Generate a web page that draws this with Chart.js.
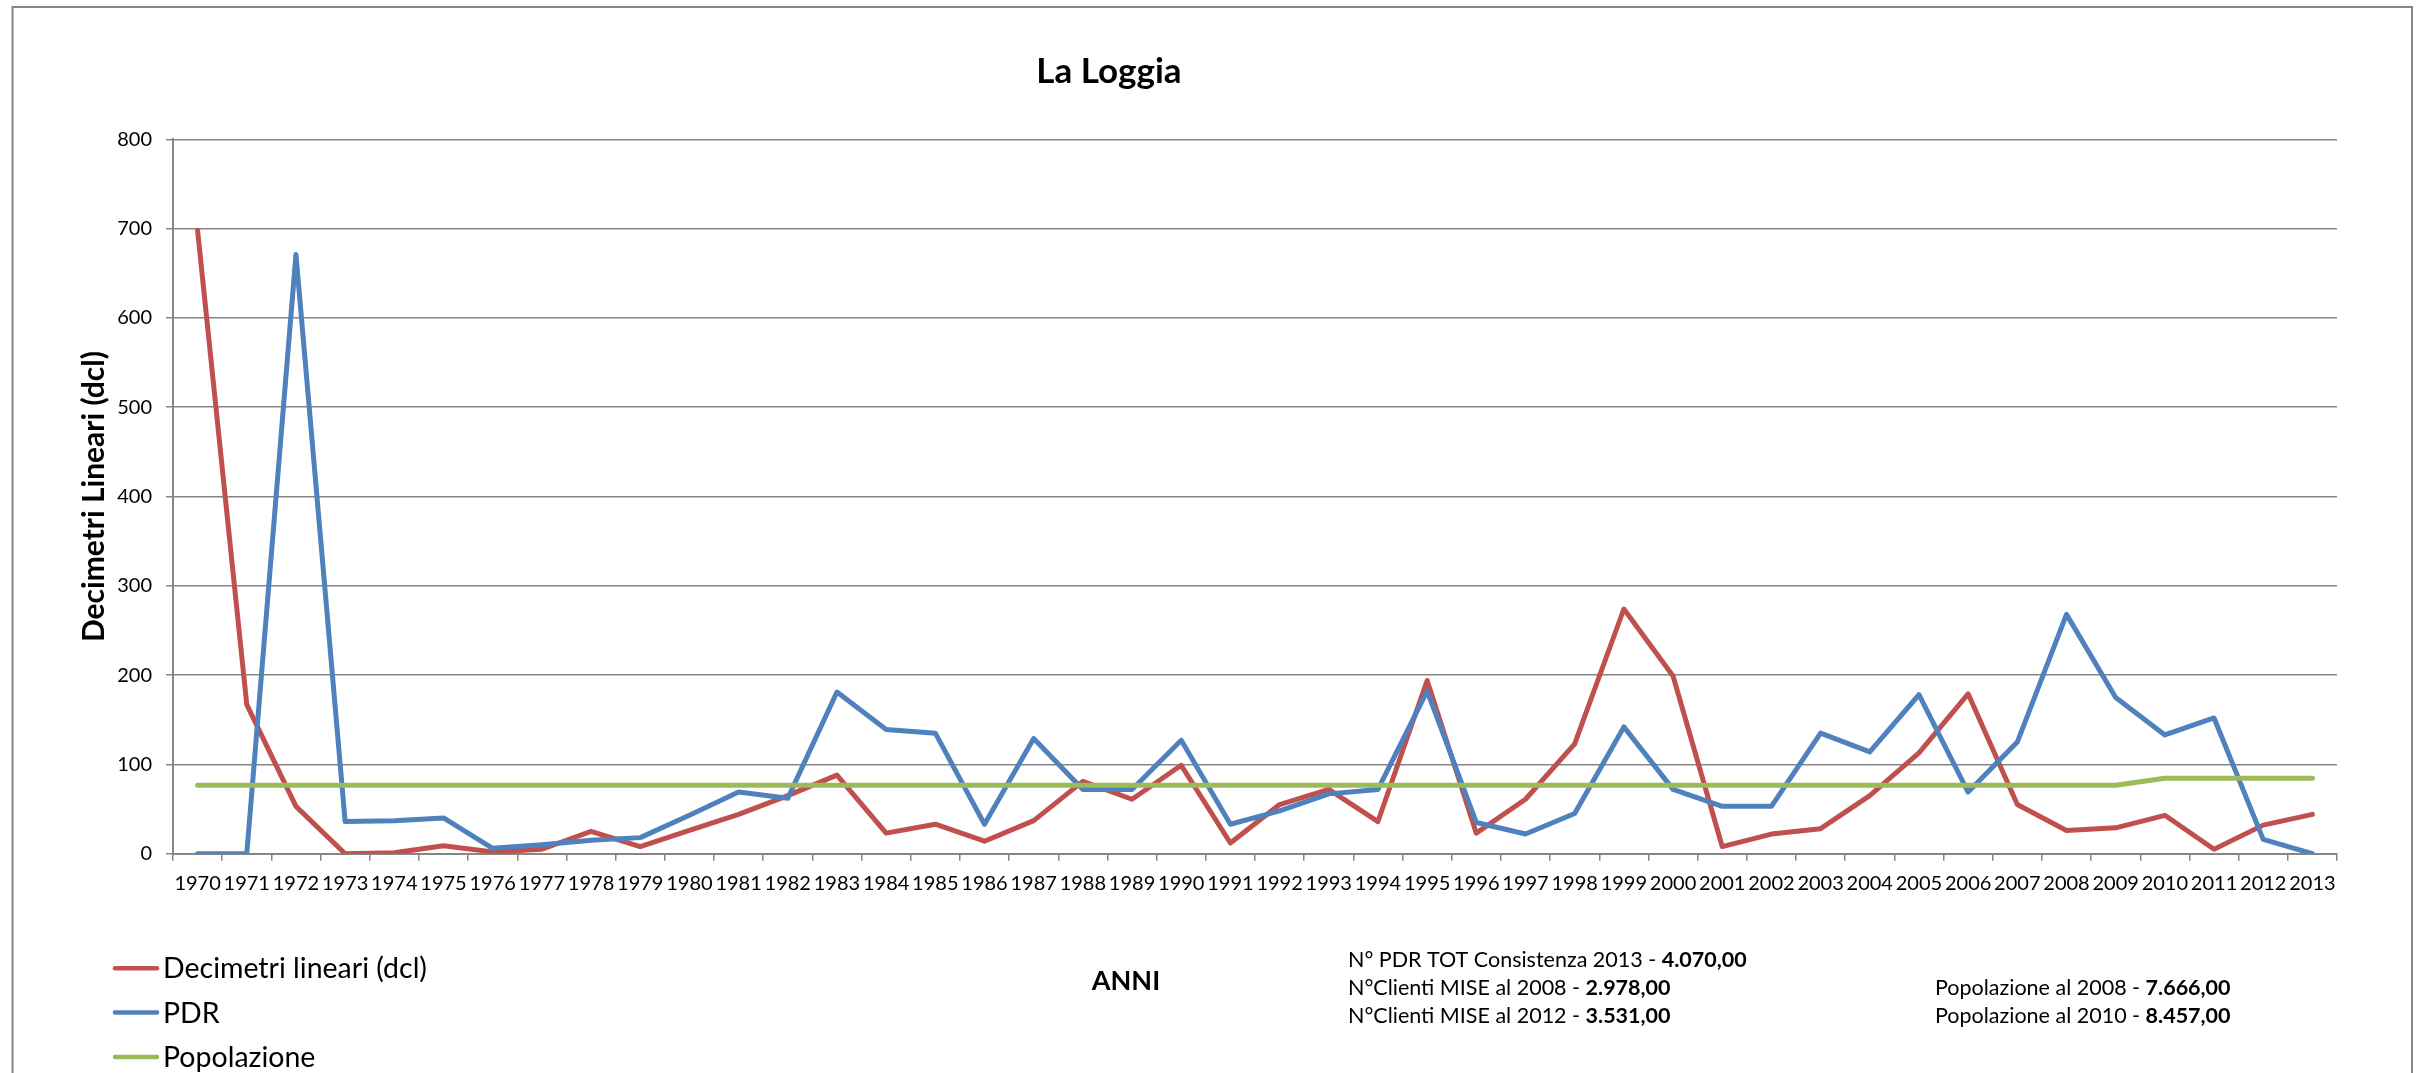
<!DOCTYPE html>
<html>
<head>
<meta charset="utf-8">
<title>La Loggia</title>
<script src="https://cdn.jsdelivr.net/npm/chart.js@4.4.1/dist/chart.umd.min.js"></script>
<style>
  html, body { margin: 0; padding: 0; background: #fff; }
  #wrap { width: 2427px; height: 1073px; position: relative; }
</style>
</head>
<body>
<div id="wrap"><canvas id="chart-1"></canvas></div>
<script>
const years = [
  '1970', '1971', '1972', '1973', '1974', '1975', '1976', '1977', '1978', '1979',
  '1980', '1981', '1982', '1983', '1984', '1985', '1986', '1987', '1988', '1989',
  '1990', '1991', '1992', '1993', '1994', '1995', '1996', '1997', '1998', '1999',
  '2000', '2001', '2002', '2003', '2004', '2005', '2006', '2007', '2008', '2009',
  '2010', '2011', '2012', '2013',
];

// Decimetri lineari (dcl)
const decimetri = [
  698, 167, 53, 0, 1, 9, 2, 5, 25, 8,
  26, 44, 65, 88, 23, 33, 14, 37, 81, 61,
  99, 12, 55, 72, 36, 194, 23, 61, 123, 274,
  199, 8, 22, 28, 65, 113, 179, 55, 26, 29,
  43, 5, 32, 44,
];

const pdr = [
  0, 0, 671, 36, 37, 40, 6, 10, 15, 18,
  43, 69, 62, 181, 139, 135, 33, 129, 72, 72,
  127, 33, 48, 67, 72, 182, 35, 22, 45, 142,
  72, 53, 53, 135, 114, 178, 69, 125, 268, 175,
  133, 152, 16, 0,
];

// popolazione / 100
const popolazione = [
  76.66, 76.66, 76.66, 76.66, 76.66, 76.66, 76.66, 76.66, 76.66, 76.66,
  76.66, 76.66, 76.66, 76.66, 76.66, 76.66, 76.66, 76.66, 76.66, 76.66,
  76.66, 76.66, 76.66, 76.66, 76.66, 76.66, 76.66, 76.66, 76.66, 76.66,
  76.66, 76.66, 76.66, 76.66, 76.66, 76.66, 76.66, 76.66, 76.66, 76.66,
  84.57, 84.57, 84.57, 84.57,
];

const seriesNames = ['Decimetri lineari (dcl)', 'PDR', 'Popolazione'];
const seriesColors = ['#C0504D', '#4F81BD', '#9BBB59'];

const chartTitle = 'La Loggia';
const yTitle = 'Decimetri Lineari (dcl)';
const xTitle = 'ANNI';

const notesLeft = [
  ['N° PDR TOT Consistenza 2013 - ', '4.070,00'],
  ['N°Clienti MISE al 2008 - ', '2.978,00'],
  ['N°Clienti MISE al 2012 - ', '3.531,00'],
];
const notesRight = [
  ['Popolazione al 2008 - ', '7.666,00'],
  ['Popolazione al 2010 - ', '8.457,00'],
];

const FONT = 'Lato, "Open Sans", sans-serif';
const GRID = '#868686';

// frame, titles, legend and the notes under the chart
const decorPlugin = {
  id: 'decor',
  afterDraw(chart) {
    const ctx = chart.ctx;
    ctx.save();

    ctx.strokeStyle = GRID;
    ctx.lineWidth = 2;
    ctx.beginPath();
    ctx.moveTo(12.5, 1100);
    ctx.lineTo(12.5, 7);
    ctx.lineTo(2412, 7);
    ctx.lineTo(2412, 1100);
    ctx.stroke();

    ctx.fillStyle = '#000';
    ctx.textBaseline = 'alphabetic';

    ctx.textAlign = 'center';
    ctx.font = `bold 35px ${FONT}`;
    ctx.fillText(chartTitle, 1109, 83);

    ctx.save();
    ctx.translate(104, (chart.chartArea.top + chart.chartArea.bottom) / 2);
    ctx.rotate(-Math.PI / 2);
    ctx.font = `bold 30px ${FONT}`;
    ctx.fillText(yTitle, 0, 0);
    ctx.restore();

    ctx.font = `bold 27px ${FONT}`;
    ctx.fillText(xTitle, 1126, 990);

    // legend
    const legendY = [968.3, 1012.5, 1057];
    ctx.textAlign = 'left';
    ctx.font = `28.5px ${FONT}`;
    ctx.lineCap = 'round';
    seriesNames.forEach((name, i) => {
      ctx.strokeStyle = seriesColors[i];
      ctx.lineWidth = 4.5;
      ctx.beginPath();
      ctx.moveTo(115, legendY[i]);
      ctx.lineTo(157, legendY[i]);
      ctx.stroke();
      ctx.fillText(name, 163, legendY[i] + 10);
    });

    const drawNote = (note, x, y) => {
      ctx.font = `21.5px ${FONT}`;
      ctx.fillText(note[0], x, y);
      const w = ctx.measureText(note[0]).width;
      ctx.font = `bold 21.5px ${FONT}`;
      ctx.fillText(note[1], x + w, y);
    };
    notesLeft.forEach((n, i) => drawNote(n, 1348, 967 + i * 28));
    notesRight.forEach((n, i) => drawNote(n, 1935, 995 + i * 28));

    ctx.restore();
  },
};

const initChart1 = () => {
  const data = {
    labels: years,
    datasets: [
      {
        label: seriesNames[0],
        data: decimetri,
        borderColor: seriesColors[0],
        backgroundColor: seriesColors[0],
        order: 2,
      },
      {
        label: seriesNames[1],
        data: pdr,
        borderColor: seriesColors[1],
        backgroundColor: seriesColors[1],
        order: 1,
      },
      {
        label: seriesNames[2],
        data: popolazione,
        borderColor: seriesColors[2],
        backgroundColor: seriesColors[2],
        order: 0,
      },
    ],
  };

  const config = {
    type: 'line',
    data: data,
    plugins: [decorPlugin],
    options: {
      responsive: true,
      maintainAspectRatio: false,
      animation: false,
      devicePixelRatio: 1,
      layout: {
        padding: { top: 139.3, right: 90, bottom: 0, left: 0 },
      },
      plugins: {
        legend: { display: false },
        title: { display: false },
        tooltip: { enabled: false },
      },
      elements: {
        point: { radius: 0 },
        line: {
          borderWidth: 5,
          tension: 0,
          borderCapStyle: 'round',
          borderJoinStyle: 'round',
        },
      },
      scales: {
        x: {
          offset: true,
          grid: {
            offset: true,
            drawOnChartArea: false,
            color: GRID,
            lineWidth: 1.5,
            tickLength: 7,
          },
          border: { color: GRID, width: 2 },
          ticks: {
            color: '#000',
            font: { family: FONT, size: 20 },
            padding: 11,
            maxRotation: 0,
            autoSkip: false,
          },
          afterFit(scale) {
            scale.height = 1073 - 853.7;
          },
        },
        y: {
          min: 0,
          max: 800,
          ticks: {
            stepSize: 100,
            color: '#000',
            font: { family: FONT, size: 20 },
            padding: 14,
          },
          grid: { color: GRID, lineWidth: 1.5, tickLength: 7 },
          border: { color: GRID, width: 2 },
          afterFit(scale) {
            scale.width = 173;
          },
        },
      },
    },
  };

  return new Chart(document.getElementById('chart-1'), config);
};

const chart1 = initChart1();
</script>
</body>
</html>
